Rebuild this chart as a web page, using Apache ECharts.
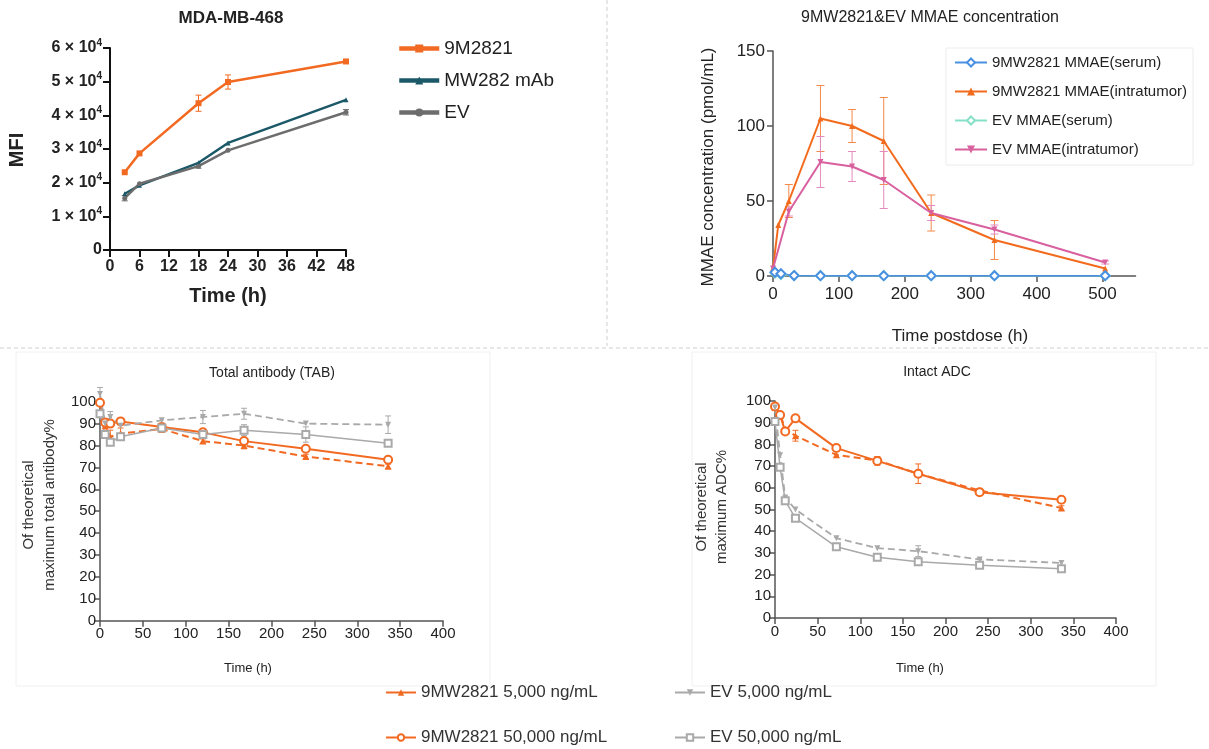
<!DOCTYPE html>
<html>
<head>
<meta charset="utf-8">
<script src="https://cdn.jsdelivr.net/npm/echarts@6/dist/echarts.min.js"></script>
<style>
  html, body { margin: 0; padding: 0; background: #fff; }
  #chart { width: 1209px; height: 749px; }
</style>
</head>
<body>
<div id="chart"></div>
<script>
// panel A: MDA-MB-468 binding (MFI)
const mfiTimes = [3, 6, 18, 24, 48];
const mfi9M2821 = [23100, 28700, 43600, 49900, 56000];
const mfi9M2821Err = [0, 0, 2400, 2100, 600];
const mfiMW282 = [16700, 19200, 25900, 31800, 44600];
const mfiEV = [15400, 19700, 24900, 29600, 40900];
const mfiEVErr = [800, 0, 600, 0, 800];

// panel B: MMAE concentration
const serumTimes = [3, 12, 32, 72, 120, 168, 240, 336, 504];
const mmaeSerum9MW = [2.5, 1.5, 0.3, 0.2, 0.2, 0.2, 0.2, 0.2, 0.2];
const mmaeSerumEV = [2, 1, 0.3, 0.2, 0.2, 0.2, 0.2, 0.2, 0.2];
const tumorTimes9MW = [0, 8, 24, 72, 120, 168, 240, 336, 504];
const mmaeTumor9MW = [5, 34, 50, 105, 100, 90, 42, 24, 5];
const mmaeTumor9MWErr = [0, 0, 11, 22, 11, 29, 12, 13, 0];
const tumorTimesEV = [0, 24, 72, 120, 168, 240, 336, 504];
const mmaeTumorEV = [5, 43, 76, 73, 64, 42, 31, 9];
const mmaeTumorEVErr = [0, 3, 17, 10, 19, 5, 3, 1];

// panels C/D: in vitro stability
const stabTimes = [0, 6, 12, 24, 72, 120, 168, 240, 336];
const tab9MW5k = [100, 89, 84, 85.5, 87.5, 82, 80, 75, 70.5];
const tab9MW5kErr = [0, 0, 3, 2.5, 1.5, 1, 1.5, 1, 1];
const tab9MW50k = [99.5, 90.5, 90, 91, 88.5, 86, 82, 78.5, 73.5];
const tab9MW50kErr = [0, 0, 0, 0, 1, 0, 0, 0, 0];
const tabEV5k = [103.5, 90, 93, 89, 91.5, 93, 94.5, 90, 89.5];
const tabEV5kErr = [3, 0, 2.5, 0, 0, 3, 2.5, 0, 4];
const tabEV50k = [94.5, 85, 81.5, 84, 88, 85, 87, 85, 81];
const tabEV50kErr = [0, 0, 0, 0, 0, 0, 2.5, 3.5, 0];

const adc9MW5k = [97, 94, 87, 84, 75.2, 72.6, 66.5, 58.8, 50.7];
const adc9MW5kErr = [0, 0, 0, 2.5, 0, 1.5, 0, 0, 1];
const adc9MW50k = [97.5, 93.5, 86, 92, 78.3, 72.4, 66.5, 58, 54.5];
const adc9MW50kErr = [0, 0, 0, 0, 0, 2, 4.5, 0, 1.5];
const adcEV5k = [97, 75, 55.5, 50, 36.8, 32.2, 30.8, 27, 25.4];
const adcEV5kErr = [0, 0, 0, 0, 0, 0, 2.5, 0, 0];
const adcEV50k = [90.5, 69.5, 54, 46, 32.8, 28, 25.9, 24.3, 22.7];

const FONT = 'Liberation Sans, Arial, sans-serif';
const ORANGE = '#f26a22';
const GRAY = '#a9a9a9';

function pairs(xs, ys) {
  return xs.map((x, i) => [x, ys[i]]);
}

function line(name, axis, xs, ys, color, extra) {
  return Object.assign({
    name, type: 'line', xAxisIndex: axis, yAxisIndex: axis,
    data: pairs(xs, ys), color, clip: false, z: 3,
    lineStyle: { width: 2, color },
    itemStyle: { color },
    symbolSize: 6
  }, extra || {});
}

function errorBars(axis, xs, ys, errs, color, cap) {
  const data = [];
  xs.forEach((x, i) => { if (errs[i]) data.push([x, ys[i] - errs[i], ys[i] + errs[i]]); });
  return {
    type: 'custom', xAxisIndex: axis, yAxisIndex: axis, data, z: 2, silent: true,
    encode: { x: 0, y: [1, 2] },
    renderItem(params, api) {
      const lo = api.coord([api.value(0), api.value(1)]);
      const hi = api.coord([api.value(0), api.value(2)]);
      const st = { stroke: color, lineWidth: 1 };
      return {
        type: 'group', children: [
          { type: 'line', shape: { x1: lo[0], y1: lo[1], x2: hi[0], y2: hi[1] }, style: st },
          { type: 'line', shape: { x1: lo[0] - cap, y1: lo[1], x2: lo[0] + cap, y2: lo[1] }, style: st },
          { type: 'line', shape: { x1: hi[0] - cap, y1: hi[1], x2: hi[0] + cap, y2: hi[1] }, style: st }
        ]
      };
    }
  };
}

function text(x, y, str, size, opts) {
  opts = opts || {};
  return {
    type: 'text', x, y, rotation: opts.rot || 0, z: 10,
    style: {
      text: str, fontSize: size, fontFamily: FONT, fill: opts.color || '#222',
      fontWeight: opts.bold ? 'bold' : 'normal', align: 'center', verticalAlign: 'middle',
      lineHeight: opts.lh || size * 1.2
    }
  };
}

function stabAxes(idx, left, top, width, height) {
  const axisLine = { show: true, lineStyle: { color: '#555', width: 1.5 } };
  const axisTick = { show: true, length: 6, lineStyle: { color: '#555', width: 1.5 } };
  return {
    grid: { left, top, width, height },
    x: {
      gridIndex: idx, type: 'value', min: 0, max: 400, interval: 50,
      axisLine, axisTick, splitLine: { show: false },
      axisLabel: { fontSize: 15, color: '#222', fontFamily: FONT, margin: 6 }
    },
    y: {
      gridIndex: idx, type: 'value', min: 0, max: 100, interval: 10,
      axisLine, axisTick, splitLine: { show: false },
      axisLabel: { fontSize: 15, color: '#222', fontFamily: FONT, margin: 4 }
    }
  };
}

const chart = echarts.init(document.getElementById('chart'));

const blackLine = { show: true, lineStyle: { color: '#111', width: 2 } };
const boldLabel = { fontSize: 16, fontWeight: 'bold', color: '#222', fontFamily: FONT };
const bmLine = { show: true, lineStyle: { color: '#555', width: 1.5 } };
const bmLabel = { fontSize: 17, color: '#222', fontFamily: FONT };

const c = stabAxes(2, 100, 401.7, 343, 219);
const d = stabAxes(3, 775, 401, 341, 217);

const stab = [
  ['9MW2821 5,000 ng/mL', ORANGE, { symbol: 'triangle', symbolSize: 7, lineStyle: { width: 2, color: ORANGE, type: [7, 4] } }],
  ['9MW2821 50,000 ng/mL', ORANGE, { symbol: 'emptyCircle', symbolSize: 8, lineStyle: { width: 2, color: ORANGE }, itemStyle: { color: ORANGE, borderWidth: 2 } }],
  ['EV 5,000 ng/mL', GRAY, { symbol: 'triangle', symbolRotate: 180, symbolSize: 6, lineStyle: { width: 1.8, color: GRAY, type: [7, 4] } }],
  ['EV 50,000 ng/mL', GRAY, { symbol: 'emptyRect', symbolSize: 7, lineStyle: { width: 1.5, color: GRAY }, itemStyle: { color: GRAY, borderWidth: 1.5 } }]
];
const tabVals = [tab9MW5k, tab9MW50k, tabEV5k, tabEV50k];
const tabErrs = [tab9MW5kErr, tab9MW50kErr, tabEV5kErr, tabEV50kErr];
const adcVals = [adc9MW5k, adc9MW50k, adcEV5k, adcEV50k];
const adcErrs = [adc9MW5kErr, adc9MW50kErr, adcEV5kErr, null];

const series = [
  // panel A
  errorBars(0, mfiTimes, mfi9M2821, mfi9M2821Err, ORANGE, 3),
  errorBars(0, mfiTimes, mfiEV, mfiEVErr, '#6d6d6d', 3),
  line('9M2821', 0, mfiTimes, mfi9M2821, ORANGE, { symbol: 'rect', symbolSize: 6, lineStyle: { width: 2.5, color: ORANGE } }),
  line('MW282 mAb', 0, mfiTimes, mfiMW282, '#1b5868', { symbol: 'triangle', symbolSize: 5, lineStyle: { width: 2.5, color: '#1b5868' } }),
  line('EV', 0, mfiTimes, mfiEV, '#6d6d6d', { symbol: 'circle', symbolSize: 5, lineStyle: { width: 2.5, color: '#6d6d6d' } }),
  // panel B
  errorBars(1, tumorTimes9MW, mmaeTumor9MW, mmaeTumor9MWErr, '#f58a4a', 4),
  errorBars(1, tumorTimesEV, mmaeTumorEV, mmaeTumorEVErr, '#e58ac0', 4),
  line('EV MMAE(serum)', 1, serumTimes, mmaeSerumEV, '#86e0c8', { symbol: 'emptyDiamond', symbolSize: 9, lineStyle: { width: 1.5, color: '#86e0c8' }, itemStyle: { color: '#86e0c8', borderWidth: 1.5 } }),
  line('9MW2821 MMAE(intratumor)', 1, tumorTimes9MW, mmaeTumor9MW, '#f26b1d', { symbol: 'triangle', symbolSize: 6 }),
  line('EV MMAE(intratumor)', 1, tumorTimesEV, mmaeTumorEV, '#d9609f', { symbol: 'triangle', symbolRotate: 180, symbolSize: 6 }),
  line('9MW2821 MMAE(serum)', 1, serumTimes, mmaeSerum9MW, '#4a90e2', { symbol: 'emptyDiamond', symbolSize: 9, lineStyle: { width: 1.5, color: '#4a90e2' }, itemStyle: { color: '#4a90e2', borderWidth: 1.8 } })
];
stab.forEach((s, i) => {
  series.push(errorBars(2, stabTimes, tabVals[i], tabErrs[i], s[1], 3));
  series.push(line(s[0], 2, stabTimes, tabVals[i], s[1], s[2]));
  if (adcErrs[i]) series.push(errorBars(3, stabTimes, adcVals[i], adcErrs[i], s[1], 3));
  series.push(line(s[0], 3, stabTimes, adcVals[i], s[1], s[2]));
});

const bottomLegend = {
  orient: 'vertical', top: 684, height: 64, padding: 0,
  itemWidth: 30, itemHeight: 8, itemGap: 28, lineStyle: { type: 'solid' },
  textStyle: { fontSize: 17, color: '#333', fontFamily: FONT }
};

const option = {
  animation: false,
  backgroundColor: '#fff',
  textStyle: { fontFamily: FONT },
  grid: [
    { left: 110, top: 48, width: 236, height: 202 },
    { left: 773, top: 51, width: 362.5, height: 225 },
    c.grid, d.grid
  ],
  xAxis: [
    {
      gridIndex: 0, type: 'value', min: 0, max: 48, interval: 6,
      axisLine: blackLine, axisTick: { length: 7, lineStyle: { color: '#111', width: 2 } },
      splitLine: { show: false }, axisLabel: Object.assign({ margin: 9 }, boldLabel)
    },
    {
      gridIndex: 1, type: 'value', min: 0, max: 550, interval: 100,
      axisLine: bmLine, axisTick: { length: 6, lineStyle: { color: '#555', width: 1.5 }, customValues: [0, 100, 200, 300, 400, 500] },
      splitLine: { show: false }, axisLabel: Object.assign({ margin: 10, customValues: [0, 100, 200, 300, 400, 500] }, bmLabel)
    },
    c.x, d.x
  ],
  yAxis: [
    {
      gridIndex: 0, type: 'value', min: 0, max: 60000, interval: 10000,
      axisLine: blackLine, axisTick: { show: true, length: 7, lineStyle: { color: '#111', width: 2 } },
      splitLine: { show: false },
      axisLabel: {
        margin: 8,
        formatter: v => v === 0 ? '{n|0}' : '{n|' + (v / 10000) + ' × 10}{s|4}',
        rich: {
          n: { fontSize: 16, fontWeight: 'bold', color: '#222', fontFamily: FONT },
          s: { fontSize: 10, fontWeight: 'bold', color: '#222', fontFamily: FONT, padding: [0, 0, 10, 0] }
        }
      }
    },
    {
      gridIndex: 1, type: 'value', min: 0, max: 150, interval: 50,
      axisLine: bmLine, axisTick: { show: true, length: 6, lineStyle: { color: '#555', width: 1.5 } },
      splitLine: { show: false }, axisLabel: Object.assign({ margin: 8 }, bmLabel)
    },
    c.y, d.y
  ],
  legend: [
    {
      data: ['9M2821', 'MW282 mAb', 'EV'], orient: 'vertical', left: 392, top: 34,
      itemWidth: 40, itemHeight: 10, itemGap: 13, lineStyle: { width: 4.5 },
      textStyle: { fontSize: 19, color: '#222', fontFamily: FONT }
    },
    {
      data: ['9MW2821 MMAE(serum)', '9MW2821 MMAE(intratumor)', 'EV MMAE(serum)', 'EV MMAE(intratumor)'],
      orient: 'vertical', left: 946, top: 48, itemWidth: 32, itemHeight: 10, itemGap: 14,
      padding: [7, 6, 8, 8], borderColor: '#ececec', borderWidth: 1,
      textStyle: { fontSize: 15, color: '#222', fontFamily: FONT }
    },
    Object.assign({ data: ['9MW2821 5,000 ng/mL', '9MW2821 50,000 ng/mL'], left: 385 }, bottomLegend),
    Object.assign({ data: ['EV 5,000 ng/mL', 'EV 50,000 ng/mL'], left: 674 }, bottomLegend)
  ],
  graphic: [
    { type: 'line', shape: { x1: 607, y1: 0, x2: 607, y2: 346 }, style: { stroke: '#cfcfcf', lineWidth: 1, lineDash: [4, 3] } },
    { type: 'line', shape: { x1: 0, y1: 348, x2: 1209, y2: 348 }, style: { stroke: '#cfcfcf', lineWidth: 1, lineDash: [4, 3] } },
    { type: 'rect', shape: { x: 16, y: 352, width: 474, height: 334 }, style: { fill: null, stroke: '#f0f0f0', lineWidth: 1 } },
    { type: 'rect', shape: { x: 692, y: 352, width: 464, height: 334 }, style: { fill: null, stroke: '#f0f0f0', lineWidth: 1 } },
    text(231, 18, 'MDA-MB-468', 17, { bold: true }),
    text(17, 150, 'MFI', 20, { bold: true, rot: Math.PI / 2 }),
    text(228, 296, 'Time (h)', 20, { bold: true }),
    text(930, 18, '9MW2821&EV MMAE concentration', 16),
    text(708, 167, 'MMAE concentration (pmol/mL)', 17, { rot: Math.PI / 2 }),
    text(960, 336, 'Time postdose (h)', 17),
    text(272, 373, 'Total antibody (TAB)', 14),
    text(39, 505, 'Of theoretical\nmaximum total antibody%', 15, { rot: Math.PI / 2, lh: 21, color: '#333' }),
    text(248, 668, 'Time (h)', 13),
    text(937, 372, 'Intact ADC', 14),
    text(712, 507, 'Of theoretical\nmaximum ADC%', 15, { rot: Math.PI / 2, lh: 20, color: '#333' }),
    text(920, 668, 'Time (h)', 13)
  ],
  series
};

chart.setOption(option);
</script>
</body>
</html>
